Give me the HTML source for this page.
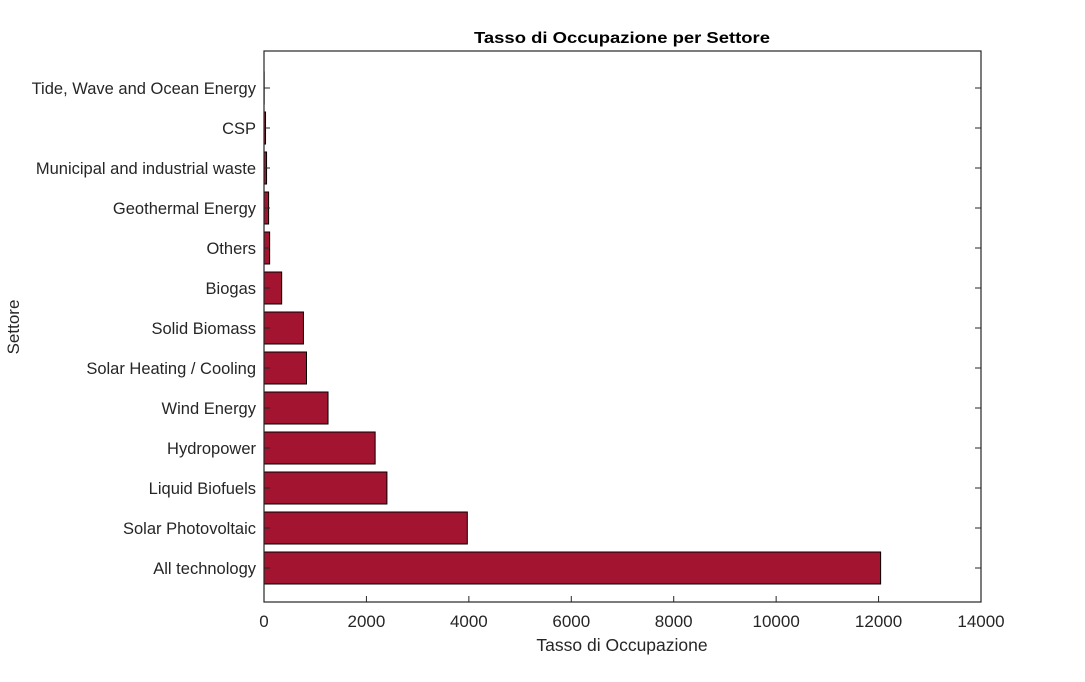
<!DOCTYPE html>
<html><head><meta charset="utf-8"><style>
body{margin:0;background:#fff;font-family:"Liberation Sans",Arial,sans-serif;}
svg text{font-family:"Liberation Sans",Arial,sans-serif;}
</style></head><body>
<svg id="chart" width="1085" height="677" viewBox="0 0 1085 677">
<text x="622" y="43" text-anchor="middle" font-size="16" font-weight="bold" fill="#000" textLength="296" lengthAdjust="spacingAndGlyphs">Tasso di Occupazione per Settore</text>
<text x="622" y="651" text-anchor="middle" font-size="17.5" fill="#262626">Tasso di Occupazione</text>
<text transform="translate(19,327) rotate(-90)" text-anchor="middle" font-size="17" fill="#262626">Settore</text>
<g id="bars"></g>
<g id="axes"></g>
</svg>
<script>
const categories=["All technology","Solar Photovoltaic","Liquid Biofuels","Hydropower","Wind Energy","Solar Heating / Cooling","Solid Biomass","Biogas","Others","Geothermal Energy","Municipal and industrial waste","CSP","Tide, Wave and Ocean Energy"];
const values=[12040,3970,2400,2170,1250,830,770,345,110,90,50,30,3];
const xTicks=[0,2000,4000,6000,8000,10000,12000,14000];
const NS="http://www.w3.org/2000/svg";
const L=264,R=981,T=51,B=602,XMAX=14000;
function xs(v){return L+(R-L)*v/XMAX;}
function ys(i){return 568-40*i;}
function mk(tag,attrs,parent){const e=document.createElementNS(NS,tag);for(const k in attrs)e.setAttribute(k,attrs[k]);parent.appendChild(e);return e;}
const bars=document.getElementById('bars'),axes=document.getElementById('axes');
categories.forEach((c,i)=>{
  const r=mk('rect',{x:xs(0),y:ys(i)-16,width:Math.max(0,xs(values[i])-xs(0)),height:32,fill:'#a31430',stroke:'#000','stroke-width':1},bars);
  
  
  const t=mk('text',{x:256,y:ys(i)+6,'text-anchor':'end','font-size':16.5,fill:'#262626'},axes);
  t.textContent=c;
  
  
  mk('line',{x1:L,x2:L+6,y1:ys(i),y2:ys(i),stroke:'#262626'},axes);
  mk('line',{x1:R,x2:R-6,y1:ys(i),y2:ys(i),stroke:'#262626'},axes);
});
xTicks.forEach(v=>{
  mk('line',{x1:xs(v),x2:xs(v),y1:B,y2:B-6,stroke:'#262626'},axes);
  const t=mk('text',{x:xs(v),y:627,'text-anchor':'middle','font-size':17,fill:'#262626'},axes);
  t.textContent=v;
  
  
});
const box=mk('rect',{x:L,y:T,width:R-L,height:B-T,fill:'none',stroke:'#262626','stroke-width':1.2},axes);


</script>
</body></html>
